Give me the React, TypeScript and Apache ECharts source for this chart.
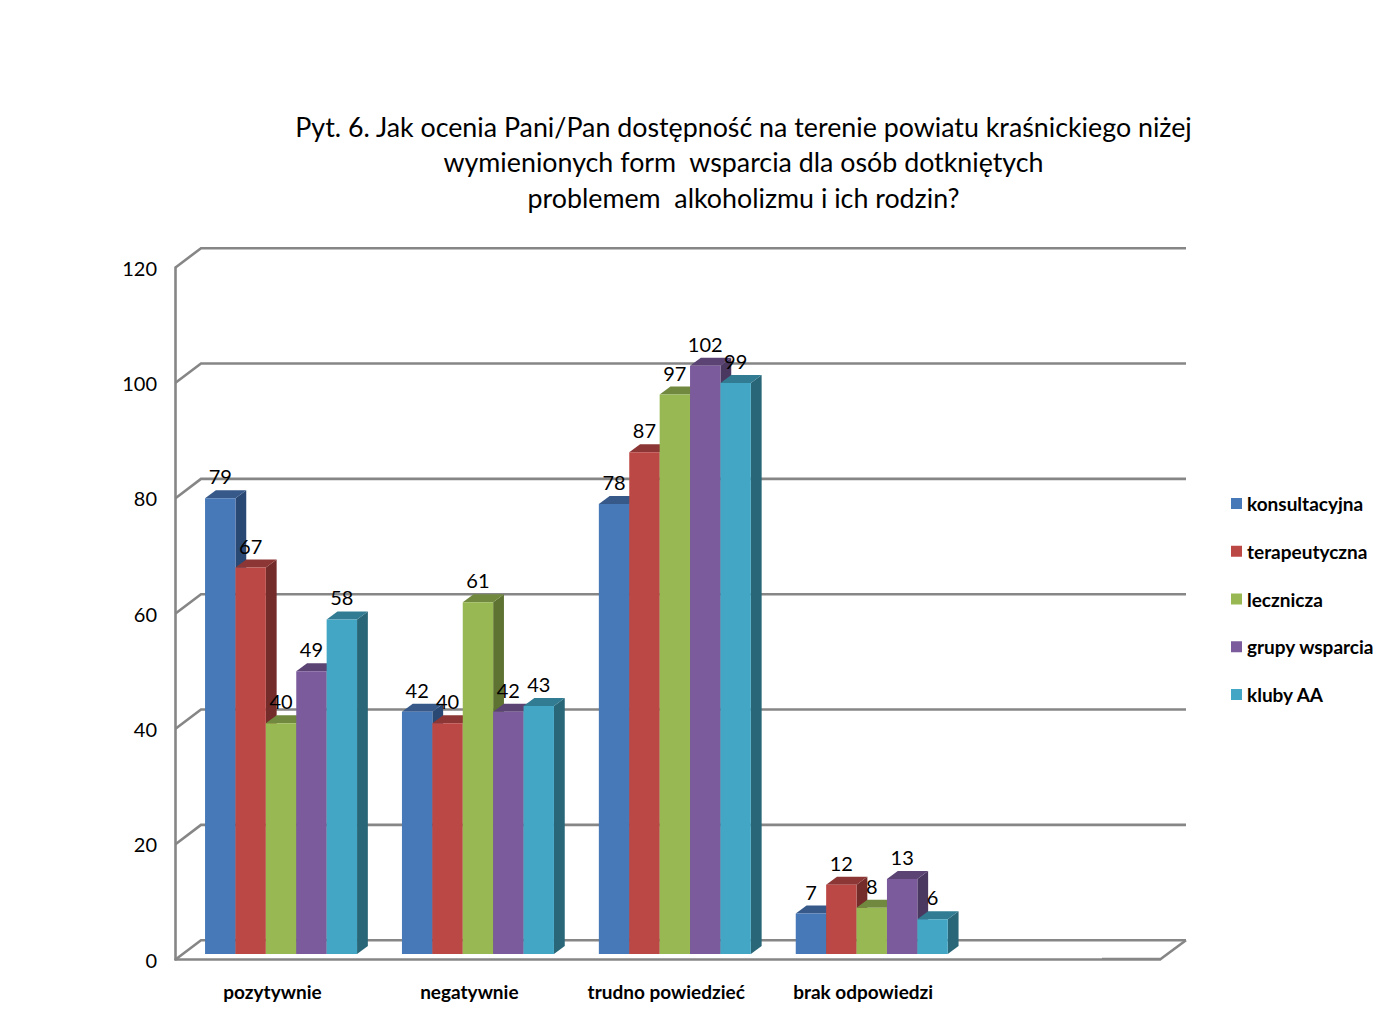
import React, { useEffect, useRef } from "react";
import * as echarts from "echarts";

const TITLE = "Pyt. 6. Jak ocenia Pani/Pan dostępność na terenie powiatu kraśnickiego niżej\nwymienionych form  wsparcia dla osób dotkniętych\nproblemem  alkoholizmu i ich rodzin?";
const categories = ["pozytywnie", "negatywnie", "trudno powiedzieć", "brak odpowiedzi", ""];
const yTicks = [0, 20, 40, 60, 80, 100, 120];
const konsultacyjna = [79, 42, 78, 7];
const terapeutyczna = [67, 40, 87, 12];
const lecznicza = [40, 61, 97, 8];
const grupyWsparcia = [49, 42, 102, 13];
const klubyAA = [58, 43, 99, 6];

const seriesDefs = [
  { name: "konsultacyjna", values: konsultacyjna, front: "#4779B8", top: "#36598A", side: "#2A4874" },
  { name: "terapeutyczna", values: terapeutyczna, front: "#BC4845", top: "#8C3735", side: "#742C2A" },
  { name: "lecznicza", values: lecznicza, front: "#98B853", top: "#71893F", side: "#5E7232" },
  { name: "grupy wsparcia", values: grupyWsparcia, front: "#7B5B9C", top: "#5B4474", side: "#4A3860" },
  { name: "kluby AA", values: klubyAA, front: "#42A6C4", top: "#317C92", side: "#296678" },
];

const AXIS = "#868686";
const FONT = "Lato, Carlito, sans-serif";
const BAR_W = 30.4;
const DEPTH_X = 10.8;
const DEPTH_Y = 8;
const WALL_X = 25.5;
const WALL_Y = 19.3;
const FLOOR_LIFT = 5.6;
const GROUP_SHIFT = 7.1;

function wallItem(params: any, api: any) {
  const cs = params.coordSys;
  const y = api.coord([0, api.value(1)])[1];
  const left = cs.x;
  const right = cs.x + cs.width;
  const style = { stroke: AXIS, lineWidth: 2.6, fill: "none" };
  const children: any[] = [
    {
      type: "polyline",
      shape: { points: [[left, y], [left + WALL_X, y - WALL_Y], [right + WALL_X + 0.5, y - WALL_Y]] },
      style,
    },
  ];
  if (api.value(1) === 0) {
    children.push({
      type: "line",
      shape: { x1: right, y1: y, x2: right + WALL_X + 0.5, y2: y - WALL_Y },
      style,
    });
    children.push({
      type: "line",
      shape: { x1: right - 58, y1: y - 1, x2: right, y2: y - 1 },
      style: { stroke: AXIS, lineWidth: 1.5 },
    });
  }
  return { type: "group", children };
}

function barItem(seriesIndex: number) {
  const def = seriesDefs[seriesIndex];
  return (_params: any, api: any) => {
    const v = api.value(1);
    const p = api.coord([api.value(0), v]);
    const base = api.coord([api.value(0), 0]);
    const x0 = p[0] + GROUP_SHIFT + (seriesIndex - 2.5) * BAR_W;
    const x1 = x0 + BAR_W;
    const yT = p[1] - FLOOR_LIFT;
    const yB = base[1] - FLOOR_LIFT;
    return {
      type: "group",
      children: [
        {
          type: "polygon",
          shape: { points: [[x1, yT], [x1 + DEPTH_X, yT - DEPTH_Y], [x1 + DEPTH_X, yB - DEPTH_Y], [x1, yB]] },
          style: { fill: def.side },
        },
        {
          type: "polygon",
          shape: { points: [[x0, yT], [x0 + DEPTH_X, yT - DEPTH_Y], [x1 + DEPTH_X, yT - DEPTH_Y], [x1, yT]] },
          style: { fill: def.top },
        },
        { type: "rect", shape: { x: x0, y: yT, width: BAR_W, height: yB - yT }, style: { fill: def.front } },
        {
          type: "text",
          z2: 100,
          x: x0 + BAR_W / 2,
          y: yT - 22,
          style: {
            text: String(v),
            fill: "#000",
            font: `20px ${FONT}`,
            align: "center",
            verticalAlign: "middle",
          },
        },
      ],
    };
  };
}

export default function App() {
  const ref = useRef<HTMLDivElement>(null);
  useEffect(() => {
    const chart = echarts.init(ref.current!, undefined, { renderer: "svg" });
    chart.setOption({
      animation: false,
      backgroundColor: "#fff",
      title: {
        text: TITLE,
        left: 738.5,
        top: 104,
        textAlign: "center",
        textStyle: { fontFamily: FONT, fontWeight: "normal", fontSize: 26.8, lineHeight: 35.5, color: "#000" },
      },
      legend: {
        orient: "vertical",
        left: 1226,
        top: 487,
        icon: "rect",
        itemWidth: 11,
        itemHeight: 11,
        itemGap: 24.75,
        itemStyle: { borderWidth: 0 },
        textStyle: { fontFamily: FONT, fontSize: 19, fontWeight: "bold", color: "#000", padding: 0, height: 23, lineHeight: 23 },
        data: seriesDefs.map((d) => d.name),
      },
      grid: { left: 175.5, top: 267.5, width: 984.5, height: 692, containLabel: false },
      xAxis: {
        type: "category",
        data: categories,
        axisLine: { lineStyle: { color: AXIS, width: 2.6 } },
        axisTick: { show: false },
        axisLabel: { interval: 0, margin: 22, fontFamily: FONT, fontSize: 19, fontWeight: "bold", color: "#000", padding: [0, 3, 0, 0] },
        splitLine: { show: false },
      },
      yAxis: {
        type: "value",
        min: 0,
        max: 120,
        interval: 20,
        axisLine: { show: true, lineStyle: { color: AXIS, width: 2.6 } },
        axisTick: { show: false },
        axisLabel: { margin: 18.5, fontFamily: FONT, fontSize: 20, color: "#000", padding: [1, 0, 0, 0] },
        splitLine: { show: false },
      },
      series: [
        {
          type: "custom",
          name: "wall",
          silent: true,
          renderItem: wallItem,
          encode: { x: 0, y: 1 },
          data: yTicks.map((t) => [0, t]),
          z: 1,
        },
        ...seriesDefs.map((d, s) => ({
          type: "custom",
          name: d.name,
          silent: true,
          renderItem: barItem(s),
          encode: { x: 0, y: 1 },
          itemStyle: { color: d.front },
          data: d.values.map((v, i) => [i, v]),
          z: 2,
        })),
      ],
    });
    return () => chart.dispose();
  }, []);
  return <div ref={ref} style={{ position: "fixed", left: 0, top: 0, width: 1396, height: 1032 }} />;
}
